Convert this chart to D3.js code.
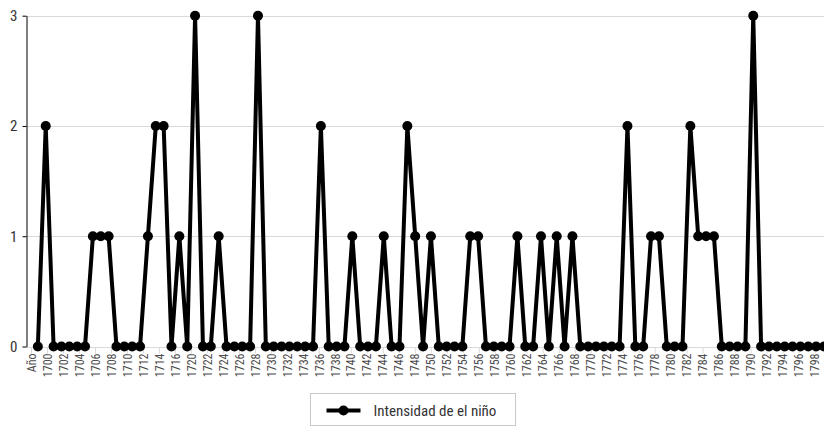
<!DOCTYPE html>
<html>
<head>
<meta charset="utf-8">
<script src="https://cdn.jsdelivr.net/npm/d3@7"></script>
<style>
  body { margin: 0; background: #fff; }
  svg { display: block; }
  text { font-family: "Roboto Condensed", "Liberation Sans Narrow", "DejaVu Sans Condensed", Roboto, sans-serif; font-stretch: condensed; }
</style>
</head>
<body>
<div id="chart"></div>
<script>
// categories behind the points: header cell + years
const years = d3.range(1699, 1800).map(String);
const categories = ["Año"].concat(years);

// El Niño intensity per year (null for the header cell)
const intensity = [
  null,
  0, 2, 0, 0, 0, 0, 0, 1, 1, 1,
  0, 0, 0, 0, 1, 2, 2, 0, 1, 0,
  3, 0, 0, 1, 0, 0, 0, 0, 3, 0,
  0, 0, 0, 0, 0, 0, 2, 0, 0, 0,
  1, 0, 0, 0, 1, 0, 0, 2, 1, 0,
  1, 0, 0, 0, 0, 1, 1, 0, 0, 0,
  0, 1, 0, 0, 1, 0, 1, 0, 1, 0,
  0, 0, 0, 0, 0, 2, 0, 0, 1, 1,
  0, 0, 0, 2, 1, 1, 1, 0, 0, 0,
  0, 3, 0, 0, 0, 0, 0, 0, 0, 0,
  0
];

// labels printed under the axis
const tickLabels = ["Año", "1700", "1702", "1704", "1706", "1708", "1710", "1712", "1714", "1716",
  "1720", "1722", "1724", "1726", "1728", "1730", "1732", "1734", "1736", "1738",
  "1740", "1742", "1744", "1746", "1748", "1750", "1752", "1754", "1756", "1758",
  "1760", "1762", "1764", "1766", "1768", "1770", "1772", "1774", "1776", "1778",
  "1780", "1782", "1784", "1786", "1788", "1790", "1792", "1794", "1796", "1798"];

const yTicks = [0, 1, 2, 3];
const seriesName = "Intensidad de el niño";

const width = 824,
    height = 429;

const svg = d3.select("#chart").append("svg")
    .attr("width", width)
    .attr("height", height);

const x = d3.scalePoint()
    .domain(categories)
    .range([30, 824]);

const xl = d3.scalePoint()
    .domain(tickLabels)
    .range([31, 814.5]);

const y = d3.scaleLinear()
    .domain([0, 3])
    .range([346.5, 15.7]);

// horizontal grid
svg.append("g")
  .selectAll("line")
    .data(yTicks)
  .enter().append("line")
    .attr("x1", 26)
    .attr("x2", width)
    .attr("y1", d => Math.round(y(d)) + 0.5)
    .attr("y2", d => Math.round(y(d)) + 0.5)
    .style("stroke", "#d9d9d9");

// x labels
const gx = svg.append("g")
    .attr("transform", "translate(0," + (Math.round(y(0)) + 0.5) + ")")
    .call(d3.axisBottom(xl).tickSize(6).tickPadding(0));

gx.select(".domain").remove();
gx.selectAll(".tick line").style("stroke", "#d9d9d9");
gx.selectAll(".tick text")
    .attr("transform", "rotate(-90)")
    .attr("x", -6)
    .attr("y", 0)
    .attr("dy", "0.35em")
    .style("text-anchor", "end")
    .style("font-size", "12px")
    .style("fill", "#4d4d4d");

// y axis
const gy = svg.append("g")
    .attr("transform", "translate(26.5,0)")
    .call(d3.axisLeft(y).tickValues(yTicks).tickFormat(d3.format("d")).tickSize(4).tickSizeOuter(0).tickPadding(5));

gy.select(".domain").style("stroke", "#000");
gy.selectAll(".tick line").style("stroke", "#000");
gy.selectAll(".tick text")
    .style("font-size", "15px")
    .style("fill", "#333");

const points = categories
    .map((c, i) => ({ cat: c, value: intensity[i] }))
    .filter(d => d.value != null);

const line = d3.line()
    .x(d => x(d.cat))
    .y(d => y(d.value));

svg.append("path")
    .datum(points)
    .attr("d", line)
    .style("fill", "none")
    .style("stroke", "#000")
    .style("stroke-width", 4)
    .style("stroke-linejoin", "round");

svg.append("g")
  .selectAll("circle")
    .data(points)
  .enter().append("circle")
    .attr("cx", d => x(d.cat))
    .attr("cy", d => y(d.value))
    .attr("r", 5)
    .style("fill", "#000");

// legend
const legend = svg.append("g")
    .attr("transform", "translate(310.5,393.5)");

legend.append("rect")
    .attr("width", 205)
    .attr("height", 32)
    .style("fill", "#fff")
    .style("stroke", "#c8c8c8");

legend.append("line")
    .attr("x1", 16)
    .attr("x2", 50)
    .attr("y1", 17)
    .attr("y2", 17)
    .style("stroke", "#000")
    .style("stroke-width", 4);

legend.append("circle")
    .attr("cx", 33)
    .attr("cy", 17)
    .attr("r", 5)
    .style("fill", "#000");

legend.append("text")
    .attr("x", 63)
    .attr("y", 17)
    .attr("dy", "0.35em")
    .style("font-size", "15px")
    .style("fill", "#333")
    .text(seriesName);
</script>
</body>
</html>
